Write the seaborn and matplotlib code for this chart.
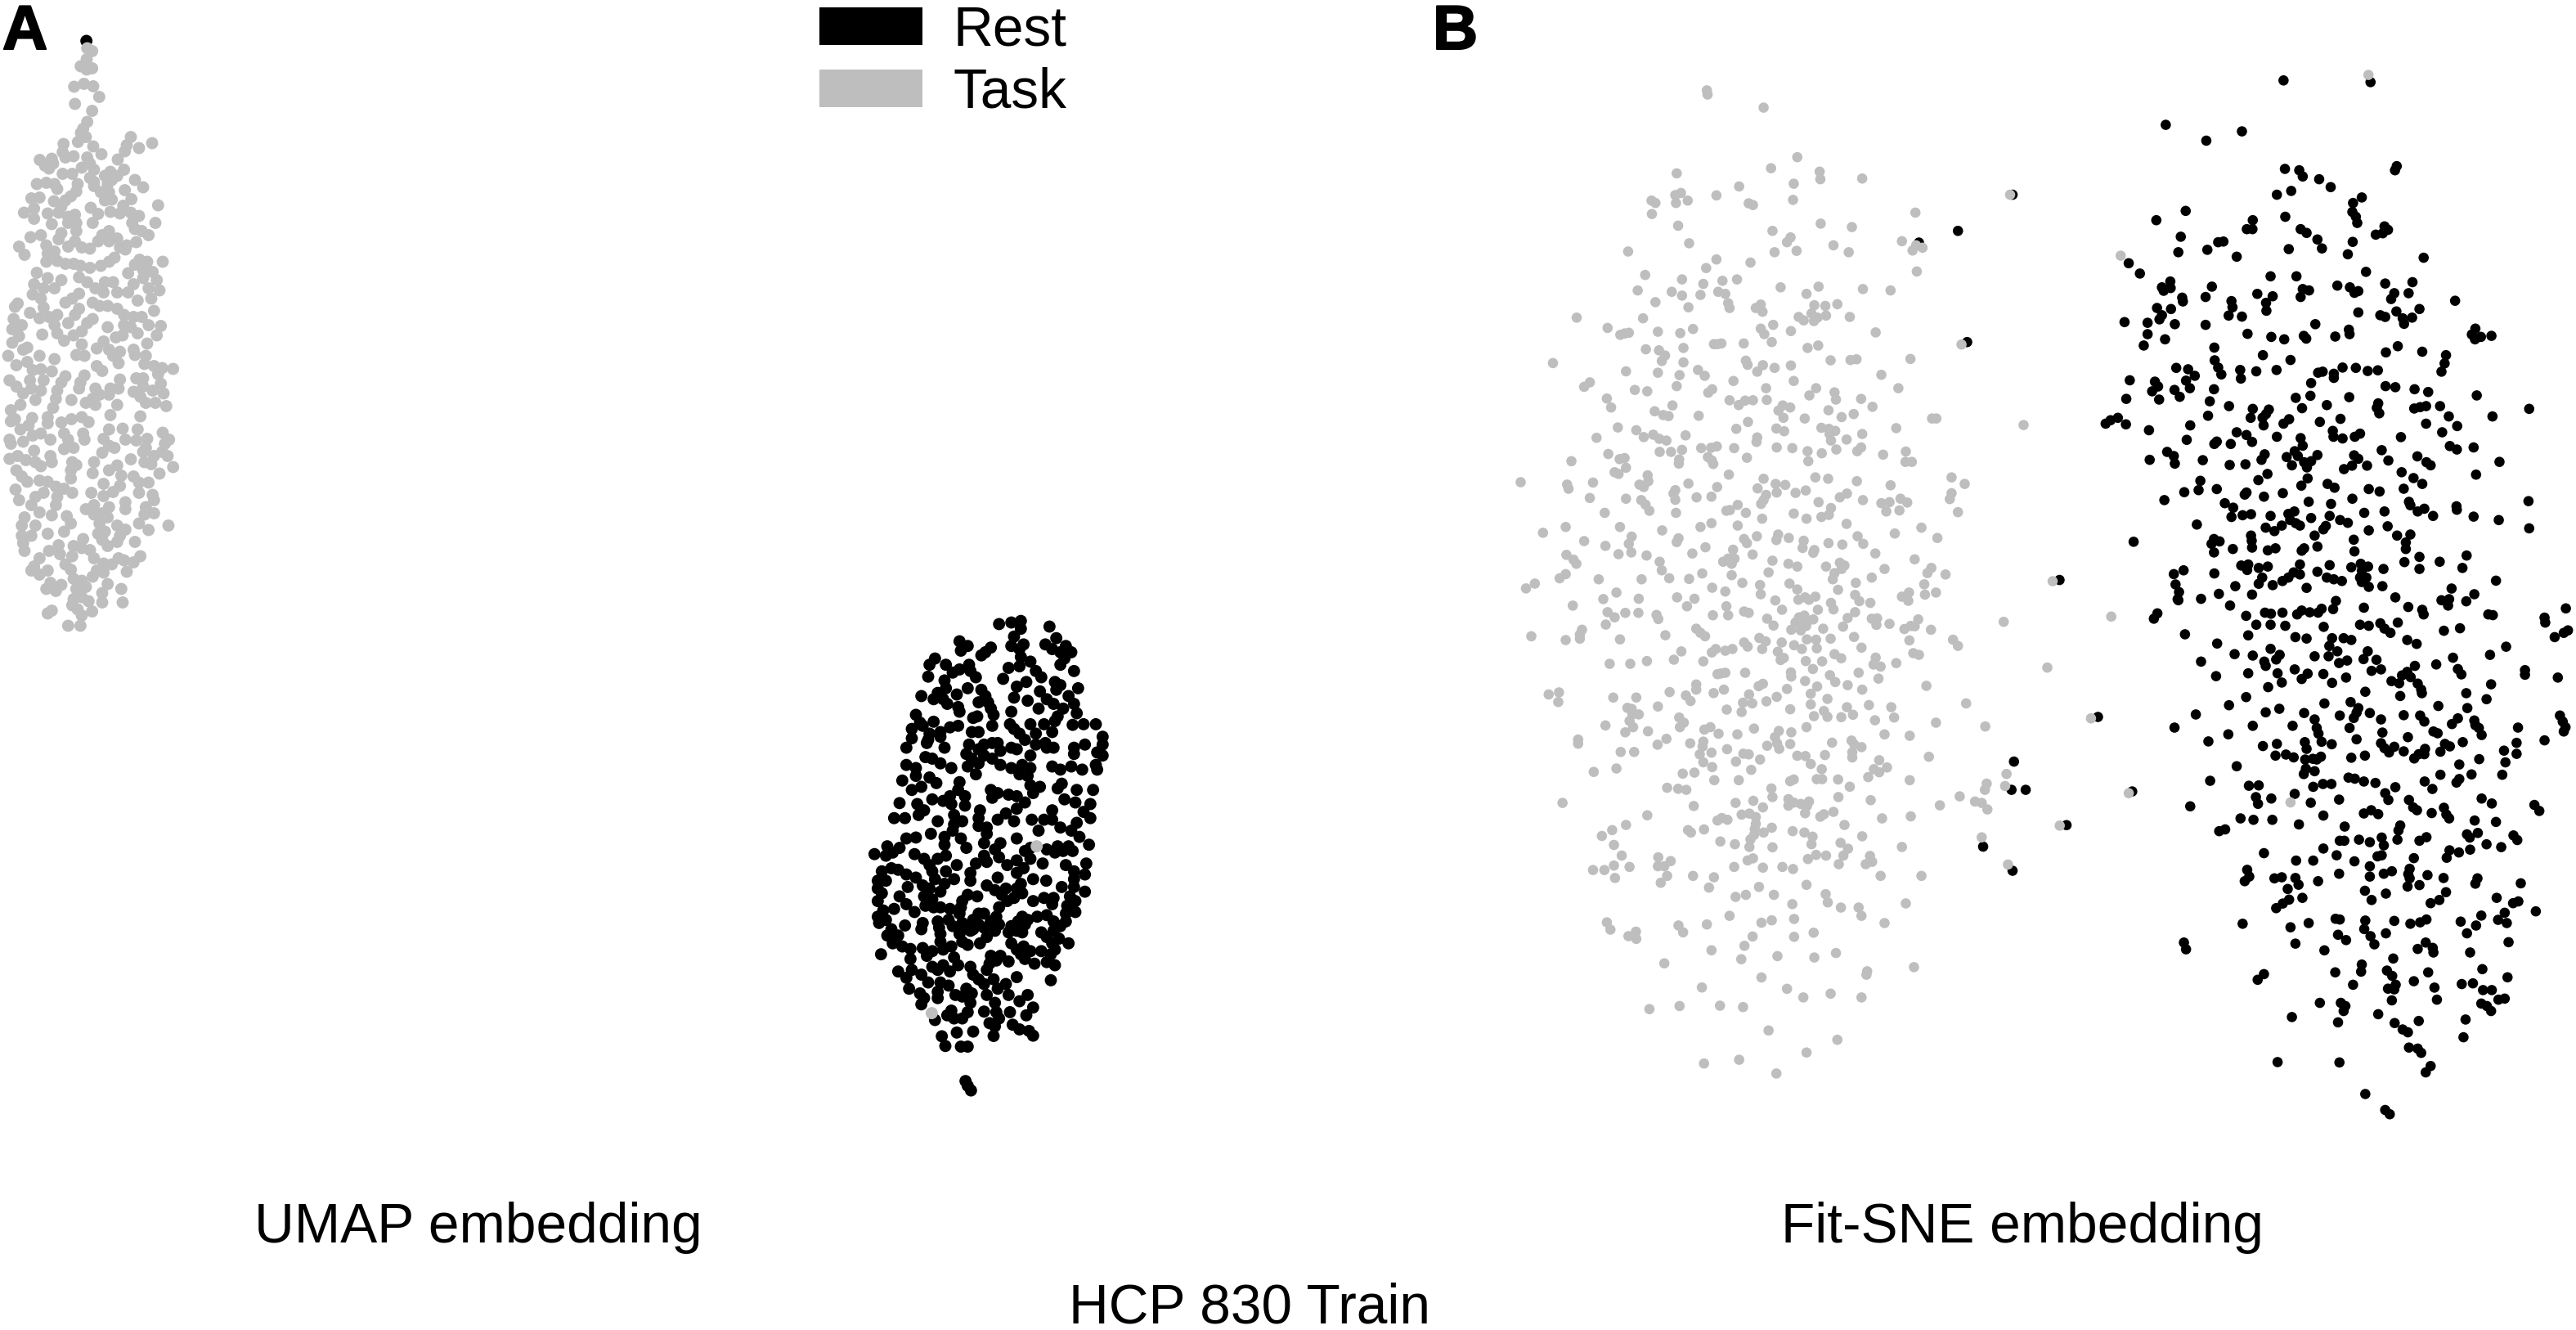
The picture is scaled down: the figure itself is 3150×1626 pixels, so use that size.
import numpy as np
import pandas as pd
import matplotlib
matplotlib.use("Agg")
import matplotlib.pyplot as plt
import matplotlib.patheffects as pe
from matplotlib.patches import Patch
import seaborn as sns

umap_task = [(320,118),(338,125),(318,145),(296,162),(318,170),(338,167),(272,212),(308,205),(342,211),(364,237),(275,254),(338,271),(320,298),(305,315),(297,325),(315,335),(480,335),(465,355),(510,362),(558,350),(458,370),(233,352),(286,347),(342,358),(230,372),(372,377),(146,391),(190,388),(240,385),(270,382),(320,385),(432,390),(165,405),(195,400),(300,410),(330,400),(345,415),(405,420),(455,415),(230,425),(265,425),(180,412),(385,430),(410,440),(430,430),(330,435),(345,445),(495,440),(135,450),(170,447),(200,450),(285,450),(525,458),(210,462),(345,455),(395,450),(280,468),(370,470),(400,470),(458,465),(115,485),(145,483),(198,492),(260,480),(240,490),(385,490),(410,488),(482,487),(225,505),(333,508),(452,503),(580,502),(88,520),(125,510),(125,535),(175,522),(215,520),(360,523),(405,518),(440,522),(480,520),(510,528),(250,530),(275,525),(340,545),(485,545),(190,548),(250,545),(280,545),(570,545),(112,580),(150,575),(225,570),(280,565),(400,565),(375,575),(495,560),(520,565),(545,575),(215,585),(275,590),(360,590),(430,583),(500,592),(70,603),(170,600),(250,603),(300,605),(330,608),(460,610),(90,623),(175,620),(200,615),(400,590),(440,605),(465,600),(170,640),(210,638),(240,645),(270,645),(295,650),(330,655),(370,650),(400,640),(420,630),(512,635),(495,647),(597,640),(540,640),(135,667),(470,668),(175,680),(225,685),(290,678),(525,660),(560,665),(525,680),(575,685),(320,690),(350,705),(385,690),(415,690),(125,695),(120,720),(160,705),(200,705),(490,695),(545,705),(585,710),(150,730),(290,718),(265,730),(240,740),(380,715),(430,715),(470,715),(160,752),(555,730),(505,735),(65,742),(55,750),(340,740),(365,748),(395,748),(430,755),(290,755),(110,765),(565,760),(275,770),(210,770),(180,775),(145,778),(455,770),(50,780),(340,780),(490,775),(520,775),(320,790),(250,790),(200,795),(80,795),(45,805),(300,810),(455,795),(395,800),(480,800),(545,795),(590,797),(505,815),(575,820),(155,818),(210,815),(270,820),(70,822),(425,825),(450,820),(380,835),(45,838),(235,833),(300,842),(540,840),(100,850),(85,855),(355,852),(400,855),(440,860),(490,855),(30,870),(145,870),(200,878),(280,868),(310,870),(415,870),(495,868),(535,870),(100,885),(355,895),(435,888),(530,890),(565,895),(60,893),(120,905),(150,903),(190,908),(375,907),(595,900),(635,902),(240,920),(310,918),(580,915),(440,928),(500,925),(35,930),(110,930),(160,930),(225,935),(295,935),(525,925),(60,945),(115,950),(290,950),(350,950),(405,950),(435,950),(525,945),(590,938),(210,955),(150,955),(85,962),(490,958),(560,955),(365,965),(400,965),(600,962),(130,978),(205,975),(262,978),(340,975),(515,970),(315,985),(350,990),(430,990),(535,985),(570,985),(610,993),(75,990),(195,997),(40,1003),(55,1025),(405,1015),(515,1018),(175,1020),(118,1022),(262,1025),(300,1020),(325,1032),(40,1030),(225,1033),(175,1035),(75,1050),(105,1040),(400,1050),(450,1048),(505,1050),(597,1058),(235,1060),(150,1060),(305,1060),(120,1065),(35,1075),(40,1085),(85,1080),(185,1075),(250,1075),(310,1075),(380,1073),(460,1075),(500,1077),(540,1073),(620,1075),(400,1090),(605,1085),(535,1095),(235,1098),(125,1102),(270,1095),(420,1095),(375,1107),(595,1105),(525,1105),(185,1115),(65,1115),(35,1122),(95,1125),(565,1115),(480,1123),(615,1115),(130,1130),(190,1130),(345,1130),(530,1130),(265,1130),(150,1140),(280,1137),(430,1138),(555,1135),(260,1150),(635,1142),(60,1150),(400,1150),(80,1165),(340,1157),(260,1170),(585,1158),(100,1178),(445,1163),(490,1165),(145,1175),(175,1178),(380,1183),(510,1180),(545,1180),(205,1190),(440,1188),(57,1197),(160,1205),(235,1195),(265,1205),(415,1203),(510,1205),(335,1205),(560,1210),(130,1215),(210,1215),(380,1213),(70,1223),(565,1223),(115,1235),(205,1235),(345,1235),(460,1228),(315,1245),(400,1240),(460,1245),(535,1240),(145,1253),(190,1260),(245,1262),(345,1258),(375,1255),(565,1255),(530,1258),(90,1265),(260,1280),(365,1280),(395,1265),(510,1280),(80,1285),(130,1285),(430,1285),(618,1285),(460,1295),(545,1296),(175,1305),(235,1300),(360,1305),(385,1300),(115,1310),(80,1310),(440,1310),(375,1320),(305,1318),(85,1328),(495,1325),(430,1325),(395,1335),(215,1333),(270,1335),(300,1340),(90,1347),(180,1347),(220,1355),(330,1345),(265,1360),(345,1365),(145,1365),(435,1365),(515,1360),(380,1378),(490,1375),(455,1370),(125,1385),(240,1380),(410,1380),(260,1393),(175,1395),(355,1395),(465,1398),(115,1395),(340,1410),(145,1405),(380,1400),(270,1415),(300,1420),(395,1428),(185,1425),(225,1430),(170,1440),(315,1435),(280,1440),(205,1445),(445,1440),(375,1450),(300,1460),(270,1465),(325,1470),(450,1473),(375,1473),(265,1480),(285,1490),(190,1493),(175,1500),(338,1495),(300,1505),(250,1530),(295,1530)]
umap_rest_top = [(317,100)]
umap_rest = [(545,60),(590,55),(625,50),(625,75),(730,68),(600,100),(755,105),(400,115),(590,130),(430,130),(405,145),(515,135),(495,150),(480,160),(635,125),(715,125),(790,130),(620,140),(740,140),(810,150),(770,150),(625,165),(785,170),(310,170),(290,190),(350,190),(435,190),(660,180),(620,195),(580,200),(770,190),(400,205),(375,215),(440,210),(680,210),(820,210),(285,228),(345,240),(460,230),(560,235),(700,230),(645,245),(610,260),(750,245),(770,255),(755,270),(835,265),(430,265),(350,265),(480,270),(320,280),(260,290),(390,285),(495,290),(695,275),(800,290),(305,300),(340,300),(505,310),(600,295),(650,305),(720,300),(355,315),(470,310),(745,315),(820,315),(395,325),(515,330),(690,330),(780,330),(400,340),(590,340),(525,350),(830,345),(240,350),(450,360),(760,355),(255,375),(520,385),(585,380),(305,372),(465,355),(660,380),(710,380),(750,370),(815,382),(855,380),(900,380),(225,395),(265,385),(395,385),(365,390),(330,405),(445,405),(470,405),(600,395),(740,405),(290,410),(225,425),(285,430),(330,420),(620,410),(680,410),(925,420),(640,430),(435,445),(520,440),(540,440),(205,455),(345,455),(490,445),(280,440),(715,440),(925,445),(680,445),(820,455),(860,445),(590,455),(470,460),(610,460),(425,475),(550,465),(660,480),(720,455),(820,475),(905,470),(275,485),(445,490),(490,480),(745,455),(300,490),(520,490),(925,480),(205,510),(330,505),(240,520),(370,520),(470,505),(550,510),(590,520),(630,510),(430,515),(660,520),(740,515),(810,515),(900,510),(770,525),(850,525),(240,545),(905,525),(460,540),(620,540),(650,545),(290,550),(190,560),(400,565),(315,568),(660,575),(775,570),(225,590),(260,580),(395,590),(515,590),(695,580),(760,585),(830,590),(890,590),(670,600),(540,600),(580,605),(610,610),(365,610),(420,610),(520,615),(300,620),(785,620),(825,630),(180,632),(245,635),(340,625),(880,635),(640,630),(370,635),(420,640),(270,655),(610,650),(475,655),(740,655),(160,680),(200,680),(250,670),(320,690),(380,670),(570,665),(855,660),(600,690),(540,685),(665,685),(470,680),(410,690),(710,685),(880,680),(740,685),(380,700),(500,710),(470,705),(770,710),(690,720),(830,695),(810,720),(295,730),(500,730),(375,720),(205,745),(240,742),(345,740),(405,745),(610,745),(840,740),(490,760),(345,765),(425,775),(550,760),(660,775),(135,770),(180,775),(875,765),(760,770),(800,770),(720,780),(530,780),(155,790),(235,795),(750,790),(88,795),(130,800),(350,800),(490,800),(640,785),(270,810),(320,810),(545,805),(780,785),(815,785),(610,815),(660,810),(150,840),(290,830),(390,830),(460,825),(500,820),(575,830),(705,825),(790,830),(865,825),(115,850),(300,850),(350,850),(440,855),(635,840),(820,850),(175,845),(205,860),(240,870),(610,855),(540,870),(670,875),(718,880),(860,860),(100,880),(130,880),(310,875),(380,875),(440,880),(820,875),(265,895),(345,890),(500,895),(625,890),(775,900),(820,900),(100,905),(210,900),(530,910),(570,905),(610,905),(860,915),(180,930),(290,905),(115,920),(330,915),(430,925),(465,930),(555,925),(630,920),(600,935),(710,935),(745,935),(805,930),(205,955),(100,945),(270,930),(300,940),(410,945),(575,945),(670,945),(825,945),(275,960),(330,965),(365,970),(405,965),(740,955),(795,960),(160,970),(120,975),(545,965),(235,980),(305,965),(400,985),(825,980),(470,985),(490,985),(100,995),(535,995),(630,995),(685,995),(720,990),(790,985),(130,1005),(320,1010),(265,1015),(360,1005),(450,1005),(410,1015),(515,1010),(615,1010),(650,1005),(745,1010),(105,1015),(200,1023),(470,1020),(545,1020),(640,1020),(790,1010),(150,1035),(260,1035),(325,1030),(375,1025),(420,1030),(590,1025),(770,1025),(450,1035),(490,1030),(530,1040),(610,1040),(700,1045),(135,1055),(175,1055),(330,1050),(400,1050),(440,1040),(580,1045),(630,1045),(745,1040),(410,1075),(500,1060),(720,1060),(765,1065),(155,1080),(330,1075),(430,1085),(590,1080),(475,1080),(800,1080),(635,1090),(740,1080),(190,1090),(370,1090),(265,1095),(610,1100),(220,1098),(340,1100),(700,1105),(660,1105),(300,1105),(750,1100),(112,1115),(625,1115),(280,1120),(515,1120),(380,1125),(640,1130),(735,1115),(220,1130),(550,1120),(580,1138),(675,1145),(510,1145),(440,1155),(300,1155),(340,1150),(395,1150),(720,1140),(750,1150),(500,1165),(535,1135),(320,1165),(365,1170),(225,1165),(175,1170),(450,1180),(610,1188),(260,1180),(470,1195),(205,1190),(525,1195),(735,1198),(285,1205),(490,1210),(330,1205),(570,1210),(215,1225),(360,1215),(425,1225),(540,1225),(255,1240),(320,1235),(445,1240),(385,1245),(410,1250),(580,1245),(650,1245),(270,1255),(320,1255),(500,1245),(620,1265),(260,1275),(440,1270),(530,1270),(670,1285),(490,1298),(370,1295),(430,1300),(585,1300),(355,1310),(535,1300),(410,1320),(645,1310),(380,1320),(310,1325),(545,1320),(510,1335),(595,1340),(530,1345),(620,1355),(390,1365),(450,1362),(655,1360),(670,1375),(335,1377),(525,1376),(348,1408),(405,1410),(430,1410),(422,1520),(430,1535),(442,1550)]
umap_task_low = [(683,770),(298,1303)]

sne_task_upper = [(570,120),(572,132),(730,170),(825,314),(751,346),(485,361),(888,356),(890,378),(1008,376),(815,391),(661,399),(1425,423),(414,440),(425,447),(481,424),(497,418),(516,440),(483,447),(597,425),(813,438),(688,448),(700,453),(1158,475),(415,479),(489,513),(891,507),(979,517),(755,528),(1120,558),(520,564),(806,547),(796,561),(927,570),(348,588),(761,590),(823,586),(970,590),(1160,570),(1150,585),(1178,577),(597,611),(693,620),(568,636),(1162,646),(396,656),(500,669),(614,673),(655,669),(560,682),(778,692),(885,690),(1010,697),(1088,701),(375,701),(471,705),(500,716),(552,714),(602,705),(622,711),(851,711),(425,735),(630,738),(634,752),(722,742),(708,752),(727,763),(873,744),(904,746),(938,741),(518,750),(829,778),(843,788),(865,768),(872,790),(882,780),(906,774),(973,778),(203,780),(390,782),(290,810),(326,830),(338,826),(350,824),(432,821),(495,825),(531,813),(757,801),(722,812),(732,828),(807,819),(1046,823),(1288,858),(590,857),(600,857),(611,855),(674,855),(753,851),(854,868),(884,861),(398,872),(435,875),(452,890),(443,906),(504,868),(504,910),(136,912),(680,905),(685,917),(728,918),(761,926),(807,919),(919,904),(975,903),(992,901),(1144,900),(545,932),(564,949),(712,937),(342,936),(432,940),(493,947),(1062,946),(645,964),(815,964),(240,968),(224,981),(485,979),(737,985),(878,985),(1110,985),(367,990),(402,994),(585,988),(574,998),(930,997),(859,1006),(934,1018),(1005,1016),(288,1015),(300,1041),(634,1020),(700,1020),(678,1021),(660,1034),(739,1019),(473,1035),(1037,1039),(784,1035),(805,1041),(772,1050),(786,1071),(423,1052),(447,1063),(462,1066),(547,1065),(913,1049),(984,1060),(950,1069),(846,1073),(1205,1073),(1217,1073),(1463,1092),(686,1083),(319,1099),(653,1103),(766,1102),(788,1110),(893,1100),(914,1103),(932,1109),(916,1118),(1104,1101),(371,1107),(419,1120),(392,1127),(436,1132),(456,1137),(510,1122),(1008,1118),(259,1129),(712,1128),(710,1141),(920,1137),(964,1134),(598,1154),(582,1158),(554,1159),(647,1159),(767,1157),(811,1159),(854,1168),(935,1163),(1005,1157),(994,1168),(437,1170),(469,1170),(500,1164),(894,1174),(1131,1169),(292,1176),(1067,1178),(324,1191),(338,1188),(573,1185),(584,1195),(683,1187),(492,1192),(491,1204),(856,1197),(188,1197),(1130,1199),(1148,1199),(588,1205),(342,1216),(310,1229),(321,1234),(632,1236),(403,1238),(405,1255),(380,1265),(392,1272),(876,1244),(912,1248),(730,1248),(1260,1244),(1297,1263),(993,1255),(249,1259),(518,1262),(45,1258),(176,1265),(180,1277),(764,1263),(791,1266),(1088,1267),(599,1272),(713,1276),(481,1281),(476,1291),(849,1282),(820,1289),(767,1288),(737,1295),(1260,1290),(965,1291),(945,1302),(240,1304),(342,1306),(541,1302),(583,1300),(481,1309),(385,1310),(397,1323),(408,1341),(730,1310),(723,1321),(1010,1310),(1255,1307),(885,1316),(1116,1306),(1135,1317),(1062,1319),(1085,1316),(657,1324),(1076,1343),(920,1333),(625,1341),(635,1339),(1113,1340),(282,1347),(483,1347),(680,1347),(815,1349),(1278,1345),(893,1359),(914,1353),(851,1364),(726,1364),(583,1377),(964,1379),(172,1388),(325,1388),(657,1384),(552,1388),(1175,1390),(444,1398),(108,1405),(1100,1407),(771,1410),(711,1415),(358,1416),(995,1415),(801,1420),(490,1421),(675,1423),(766,1426),(843,1428),(1220,1420),(224,1429),(485,1432),(683,1435),(350,1437),(913,1435),(1011,1437),(952,1439),(284,1443),(566,1447),(840,1449),(644,1454),(873,1455),(357,1462),(321,1467),(529,1465),(699,1468),(1045,1465),(174,1469),(400,1471),(870,1463),(648,1480),(630,1480),(1156,1482),(194,1483),(755,1486),(437,1489),(616,1489),(640,1495),(202,1495),(945,1492),(958,1500),(800,1495),(825,1503),(906,1503),(1071,1510),(950,1510),(443,1514),(1203,1507),(744,1520),(557,1523),(1192,1522),(1243,1526),(172,1525),(640,1528),(930,1522),(155,1537),(265,1540),(386,1540),(464,1537),(520,1539),(925,1540),(1035,1535)]
sne_task_lower = [(1545,25),(1565,735),(60,46),(85,32),(585,44),(622,55),(670,30),(720,36),(722,63),(803,32),(825,49),(940,50),(990,30),(1183,34),(1216,58),(1185,64),(1140,58),(1120,70),(1138,82),(315,58),(278,77),(378,76),(486,72),(535,76),(514,98),(763,81),(828,79),(847,72),(858,79),(876,70),(988,65),(1000,83),(1031,88),(920,88),(927,107),(883,108),(782,108),(192,96),(625,98),(290,115),(340,117),(377,117),(310,130),(428,123),(433,135),(587,124),(630,124),(675,113),(688,117),(740,134),(285,151),(758,154),(1407,143),(988,115),(967,132),(1035,134),(1050,133),(1048,152),(1085,149),(1166,136),(1145,155),(1127,164),(1156,156),(954,157),(870,136),(830,130),(845,125),(855,140),(820,145),(840,155),(850,155),(808,166),(835,168),(898,163),(1202,166),(75,185),(172,196),(218,166),(212,180),(212,192),(325,194),(453,182),(540,163),(552,175),(565,185),(718,190),(736,200),(852,194),(878,195),(919,192),(985,187),(1141,197),(1264,195),(1278,213),(675,203),(685,215),(781,203),(816,211),(726,222),(838,222),(880,220),(1006,218),(642,222),(622,227),(595,222),(584,232),(498,229),(770,230),(1152,234),(1168,239),(930,237),(949,249),(1046,247),(477,253),(778,254),(787,248),(849,257),(895,258),(401,257),(560,258),(296,265),(354,265),(1040,267),(1060,273),(1104,263),(1530,276),(869,280),(807,290),(808,302),(998,291),(678,291),(622,291),(610,293),(600,295),(917,298),(1054,308),(932,318),(847,315),(540,325),(540,340),(728,323),(716,330),(881,331),(967,327),(1189,329),(618,340),(589,350),(465,347),(1008,340),(796,338),(124,354),(153,348),(511,357),(689,354),(863,352),(306,363),(371,363),(767,361),(524,373),(151,376),(738,374),(910,367),(672,378),(698,380),(1301,380),(432,389),(863,383),(1027,385),(1090,391),(346,393),(358,396),(626,398),(668,405),(805,397),(965,391),(900,402),(378,412),(360,412),(872,417),(910,419),(949,420),(982,413),(1098,421),(492,421),(352,431),(1044,429),(505,436),(1216,436),(284,444),(362,449),(494,449),(851,449),(1355,447),(580,449),(563,456),(703,453),(404,461),(340,464),(773,460),(808,464),(603,468),(656,470),(1071,470),(1142,474),(762,478),(456,483),(207,485),(207,497),(431,500),(523,496),(560,491),(740,503),(768,496),(805,498),(923,494),(978,488),(986,500),(774,512),(1006,507),(627,513),(558,505),(583,523),(550,528),(673,526),(688,528),(825,532),(848,533),(903,530),(980,522),(980,537),(327,521),(365,521),(1196,535),(720,543),(652,549),(560,551),(863,556),(1056,545),(585,565),(1078,566),(1041,571),(315,569),(695,573),(894,571),(251,579),(502,584),(535,581),(1056,580),(1025,594),(591,603),(660,603),(880,600),(895,600),(940,601),(1142,603),(805,606),(815,601),(1415,585),(1359,613),(1411,620),(973,622),(458,625),(489,628),(512,631),(752,627),(1354,631),(941,652),(755,652),(1283,650),(1032,661),(163,669),(651,669),(701,663),(800,658),(815,668),(835,672),(858,665),(800,677),(852,678),(1326,665),(1345,669),(533,678),(1227,676),(728,682),(1361,688),(847,699),(927,695),(402,705),(668,703),(690,700),(708,710),(890,709),(900,702),(1145,708),(600,720),(612,713),(628,718),(1064,714),(342,733),(708,730),(958,733),(303,748),(517,748),(525,755),(562,746),(705,745),(753,741),(812,751),(730,755),(845,755),(274,765),(703,762),(868,767),(1008,766),(608,781),(1345,769),(693,775),(947,785),(649,789),(308,791),(865,789),(1120,797),(690,797),(755,798),(968,802),(330,822),(433,827),(955,822),(878,820),(906,822),(855,832),(1030,823),(700,830),(685,836),(468,838),(1036,840),(308,851),(1018,847),(942,847),(432,853),(450,853),(1419,848),(352,855),(647,855),(728,857),(783,855),(813,861),(281,864),(249,864),(458,881),(531,881),(1060,881),(1175,881),(590,885),(311,887),(440,901),(576,915),(717,913),(851,907),(905,934),(680,936),(651,942),(759,936),(911,958),(811,963),(1131,961),(948,973),(998,973),(1006,997),(634,997),(816,1006),(753,1010),(724,1017),(288,1016),(570,1022),(490,1025),(1071,1018),(298,1037),(503,1045),(370,1043),(349,1056),(371,1064),(871,1046),(699,1057),(816,1058),(676,1084),(583,1097),(934,1105),(769,1114),(873,1118),(667,1123),(450,1135),(1154,1146),(1022,1158),(1020,1168),(724,1176),(556,1205),(796,1209),(919,1223),(842,1234),(1006,1234),(408,1268),(493,1259),(607,1258),(672,1262),(744,1330),(938,1357),(851,1394),(562,1426),(661,1415),(766,1455)]
sne_rest_in_task_upper = [(1278,528),(1304,851),(1168,562),(1432,423)]
sne_rest_in_task_lower = [(1436,549),(1429,631),(1469,631),(1349,796),(1432,866)]
sne_task_in_rest_upper = [(974,75),(265,600)]
sne_task_in_rest_lower = [(238,124),(180,411),(288,622),(751,648)]
sne_rest_upper = [(731,91),(980,96),(394,220),(510,266),(612,239),(1055,340),(1050,352),(735,348),(776,352),(786,370),(833,378),(866,401),(753,412),(712,423),(955,431),(930,447),(451,470),(367,497),(928,473),(938,487),(942,505),(736,487),(643,497),(626,523),(642,523),(780,523),(797,534),(1020,515),(1030,525),(995,539),(1015,535),(437,545),(544,561),(559,559),(828,553),(929,560),(746,581),(841,579),(513,583),(430,590),(915,596),(597,603),(1132,606),(288,622),(320,652),(967,647),(694,660),(768,660),(1100,677),(407,675),(383,692),(388,702),(408,694),(526,690),(1022,681),(885,687),(921,692),(786,697),(804,701),(945,703),(934,708),(1048,709),(1089,709),(656,711),(700,718),(780,720),(508,720),(441,722),(443,733),(1039,726),(1222,731),(582,732),(681,737),(585,750),(369,752),(409,755),(1120,755),(682,760),(1054,762),(945,765),(383,773),(376,785),(574,774),(612,777),(1008,773),(1022,778),(1099,780),(1072,782),(1076,798),(276,793),(342,795),(420,799),(508,801),(822,799),(342,828),(628,827),(918,815),(920,828),(1280,812),(1270,829),(1296,836),(1279,843),(1326,833),(789,833),(796,841),(696,836),(733,843),(879,835),(392,843),(331,861),(533,867),(1058,863),(1128,879),(1024,881),(672,889),(1196,889),(534,904),(751,903),(1192,913),(544,925),(424,926),(458,930),(900,925),(938,926),(607,932),(711,932),(653,936),(1001,933),(972,935),(1183,937),(553,945),(477,949),(830,940),(843,937),(875,943),(875,955),(609,957),(291,962),(452,963),(363,966),(810,970),(372,980),(1023,979),(1051,982),(1106,988),(463,985),(532,988),(419,990),(355,994),(1145,996),(434,1010),(808,1007),(1284,1006),(281,1016),(375,1018),(919,1011),(766,1013),(520,1023),(1002,1029),(855,1034),(575,1037),(998,1042),(1179,1037),(1139,1037),(1122,1040),(1105,1044),(784,1043),(643,1045),(689,1047),(1434,1045),(1005,1058),(681,1060),(515,1065),(1204,1067),(1329,1067),(637,1071),(257,1071),(671,1071),(894,1074),(236,1078),(747,1075),(222,1088),(835,1083),(731,1088),(280,1090),(1139,1088),(674,1093),(464,1093),(1228,1095),(346,1107),(872,1109),(597,1113),(625,1121),(950,1117),(1185,1113),(712,1126),(935,1126),(874,1126),(1067,1127),(900,1131),(780,1130),(641,1141),(454,1135),(540,1140),(533,1147),(580,1147),(786,1152),(1207,1153),(1227,1163),(1275,1157),(1012,1165),(763,1168),(398,1170),(677,1177),(828,1179),(417,1182),(740,1185),(772,1182),(348,1193),(500,1194),(933,1180),(668,1193),(1114,1183),(1031,1195),(810,1197),(790,1200),(945,1190),(1349,1199),(1140,1200),(1152,1209),(420,1204),(577,1208),(622,1206),(755,1209),(970,1210),(927,1210),(798,1215),(904,1220),(1069,1229),(685,1234),(800,1247),(1282,1236),(1103,1246),(659,1252),(493,1254),(857,1263),(1128,1263),(782,1268),(877,1274),(975,1278),(540,1278),(1075,1277),(488,1281),(447,1287),(1006,1285),(625,1288),(620,1294),(729,1290),(675,1300),(928,1306),(390,1310),(1432,1313),(803,1315),(1090,1315),(563,1319),(867,1321),(1094,1325),(587,1332),(1226,1328),(1227,1338),(1134,1335),(1020,1343),(1115,1343),(762,1343),(745,1350),(962,1347),(614,1354),(638,1351),(694,1356),(582,1359),(863,1356),(810,1362),(1159,1356),(1275,1358),(893,1368),(915,1376),(750,1368),(766,1377),(1347,1368),(778,1384),(483,1381),(726,1384),(852,1385),(1029,1386),(680,1390),(845,1395),(1434,1392),(705,1400),(975,1398),(1094,1410),(638,1413),(1056,1413),(820,1413),(932,1425),(532,1423),(548,1430),(525,1437),(302,1431),(640,1428),(1081,1433),(1081,1452),(641,1448),(828,1445),(790,1450),(783,1457),(708,1450),(686,1456),(586,1452),(934,1459),(532,1462),(1255,1471),(1120,1475),(778,1497),(863,1499),(1178,1489),(1077,1490),(610,1500),(630,1497),(660,1507),(686,1503),(925,1505),(952,1495),(973,1503),(1120,1510),(1243,1507),(1017,1510),(627,1513),(445,1514),(955,1515),(533,1523),(417,1525),(828,1518),(760,1520),(778,1526),(745,1535),(728,1545),(670,1535),(855,1535),(875,1540),(898,1545),(950,1535),(968,1535),(955,1548),(1339,1544),(90,1542),(422,1555),(660,1553),(700,1557),(593,1560),(1014,1560),(975,1562),(797,1565)]
sne_rest_lower = [(200,407),(298,617),(110,712),(428,75),(432,55),(430,78),(495,74),(546,60),(641,62),(578,93),(370,115),(360,130),(881,80),(1051,70),(1212,45),(1183,78),(1205,75),(1202,93),(1254,81),(1277,61),(1088,97),(961,99),(1128,105),(1132,118),(873,103),(840,102),(830,113),(806,112),(783,107),(770,118),(728,113),(695,116),(678,113),(624,122),(1317,118),(1330,120),(1539,101),(1478,127),(1480,141),(449,174),(653,147),(694,147),(736,150),(846,153),(950,147),(975,150),(1008,143),(1020,158),(1037,170),(1058,141),(1190,164),(1236,157),(1545,163),(1533,170),(1507,182),(630,177),(765,182),(797,186),(870,185),(903,185),(925,190),(1085,190),(1112,201),(862,207),(541,200),(885,222),(694,215),(972,222),(1368,209),(591,230),(643,234),(720,232),(710,245),(820,236),(860,236),(1322,232),(495,251),(676,251),(680,263),(890,255),(913,248),(960,244),(997,246),(1216,240),(763,273),(1168,259),(1107,263),(1422,275),(1422,288),(1010,273),(983,277),(1230,272),(1240,287),(1085,280),(1070,290),(1095,295),(630,284),(714,284),(800,285),(845,286),(910,296),(538,292),(783,300),(1516,296),(726,310),(1040,306),(870,311),(1062,312),(1115,313),(1325,315),(687,323),(965,336),(1125,330),(1127,340),(1254,340),(624,351),(1065,348),(1312,357),(923,365),(848,369),(575,374),(1174,376),(945,382),(1257,382),(719,384),(680,394),(940,395),(790,396),(978,396),(480,400),(892,403),(1075,402),(1122,403),(1010,414),(932,410),(820,414),(1134,420),(1230,411),(1213,427),(1277,417),(1280,430),(1522,403),(1530,420),(419,437),(643,432),(757,432),(826,438),(920,438),(1402,437),(1290,438),(1538,436),(1533,448),(573,456),(1014,451),(831,454),(1160,448),(1172,453),(1298,458),(940,470),(1087,464),(1478,473),(516,476),(840,477),(869,484),(1244,478),(712,483),(792,478),(672,489),(1010,481),(1398,480),(1048,491),(1193,483),(1207,490),(797,497),(1136,497),(1020,495),(1075,504),(1033,507),(1180,505),(1362,502),(1398,511),(1134,512),(1118,512),(708,516),(738,513),(760,521),(793,527),(1105,524),(838,519),(815,525),(826,527),(925,522),(964,516),(1291,526),(1366,535),(597,546),(1234,541),(795,553),(820,560),(789,568),(1180,570),(1269,569),(1357,570),(917,578),(935,581),(1234,582),(1226,592),(961,589),(521,587),(1135,589),(994,593),(844,596),(868,596),(816,604),(632,601),(660,600),(1051,605),(1157,610),(1022,622),(763,624),(1031,641),(652,633),(1090,641),(696,637),(890,640),(1298,637),(809,649),(1327,651),(658,652),(1449,655),(1463,672),(464,659),(1190,663),(1102,662),(1113,670),(982,670),(961,679),(1002,681),(1155,678),(845,685),(1197,682),(1205,693),(608,693),(645,697),(699,697),(1278,699),(1339,703),(775,710),(906,716),(1065,713),(1060,727),(564,724),(547,729),(1256,738),(1287,734),(1389,741),(1400,754),(1264,747),(1140,746),(1120,756),(1012,747),(947,753),(905,756),(892,756),(978,760),(1057,753),(1018,769),(845,778),(1312,766),(1354,774),(1206,783),(1233,789),(1265,781),(675,791),(1012,797),(1000,800),(883,797),(1198,804),(1104,805),(767,812),(816,812),(934,814),(978,828),(627,838),(1092,835),(890,849),(1041,842),(1018,849),(1088,850),(1143,853),(978,857),(633,857),(1189,861),(1286,862),(705,862),(726,859),(765,861),(1092,862),(620,870),(830,870),(1280,877),(774,880),(1410,876),(1086,885),(1120,881),(743,892),(964,897),(1196,901),(1024,905),(785,917),(1341,917),(983,923),(747,922),(1177,923),(1152,932),(729,933),(1403,927),(1388,932),(710,946),(1453,955),(1364,959),(1297,967),(880,976),(892,978),(965,981),(1345,979),(1048,982),(1140,978),(1122,986),(1238,984),(1370,988),(1094,990),(614,990),(803,988),(1282,995),(751,1000),(962,1005),(1256,1017),(1024,1017),(887,1021),(980,1025),(910,1036),(1375,1042),(1138,1043),(765,1046),(991,1048),(446,1043),(452,1062),(1115,1061),(1158,1058),(1160,1071),(848,1065),(1265,1071),(1045,1088),(955,1105),(1300,1118),(953,1125),(879,1127),(1027,1122),(1145,1127),(1042,1137),(675,1132),(657,1148),(1372,1141),(1104,1152),(930,1162),(1241,1160),(1273,1158),(1052,1162),(1163,1170),(1030,1173),(1048,1175),(1302,1177),(1327,1177),(1170,1204),(1041,1206),(1346,1204),(1364,1201),(835,1213),(895,1213),(1297,1215),(908,1222),(1313,1222),(903,1236),(1325,1236),(755,1253),(1002,1245),(1252,1260),(887,1268),(1118,1264),(1049,1270),(1072,1288),(1087,1296),(1246,1310),(1090,1339),(1115,1342),(1125,1354),(714,1380),(891,1381),(1152,1391),(1138,1409),(965,1470),(1022,1515),(1035,1527)]

group_labels = ["Rest", "Task"]
panel_titles = ["UMAP embedding", "Fit-SNE embedding"]
figure_title = "HCP 830 Train"
panel_letters = ["A", "B"]

# view geometry of each reading: left, top, units per pixel in x and y
V_A1 = (0, 0, 3.0, 2.0)
V_A2 = (1040, 740, 3.0, 1568/600)
V_B1 = (1840, 60, 1568/680, 1568/660)
V_B2 = (1840, 700, 1568/680, 1568/660)
V_B3 = (2480, 60, 1568/670, 1568/660)
V_B4 = (2480, 700, 1568/670, 1568/680)

def frame(points, view, state):
    a = np.array(points, dtype=float)
    return pd.DataFrame({"x": view[0] + a[:, 0] / view[2],
                         "y": view[1] + a[:, 1] / view[3],
                         "state": state})

umap_df = pd.concat([frame(umap_rest, V_A2, "Rest"), frame(umap_rest_top, V_A1, "Rest"),
                     frame(umap_task, V_A1, "Task"), frame(umap_task_low, V_A2, "Task")], ignore_index=True)
sne_df = pd.concat([frame(sne_rest_upper, V_B3, "Rest"), frame(sne_rest_lower, V_B4, "Rest"),
                    frame(sne_rest_in_task_upper, V_B1, "Rest"), frame(sne_rest_in_task_lower, V_B2, "Rest"),
                    frame(sne_task_upper, V_B1, "Task"), frame(sne_task_lower, V_B2, "Task"),
                    frame(sne_task_in_rest_upper, V_B3, "Task"), frame(sne_task_in_rest_lower, V_B4, "Task")], ignore_index=True)

sns.set_theme(style="white")
plt.rcParams["font.family"] = ["Liberation Sans", "DejaVu Sans"]
palette = {"Rest": "#000000", "Task": "#BEBEBE"}

W, H = 3150, 1626
SPLIT = 1750
fig = plt.figure(figsize=(W/100, H/100), dpi=100, facecolor="white")
ax_a = fig.add_axes([0, 0, SPLIT/W, 1])
ax_b = fig.add_axes([SPLIT/W, 0, 1-SPLIT/W, 1])
for ax, df, xlim, s in ((ax_a, umap_df, (0, SPLIT), 115), (ax_b, sne_df, (SPLIT, W), 82)):
    sns.scatterplot(data=df, x="x", y="y", hue="state", palette=palette, s=s,
                    linewidth=0, legend=False, ax=ax, clip_on=False)
    ax.set_xlim(*xlim)
    ax.set_ylim(H, 0)
    ax.axis("off")

FS = 48.7
ax_a.text(585, 1519, panel_titles[0], fontsize=FS, ha="center", va="baseline", color="black")
ax_b.text(2473, 1519, panel_titles[1], fontsize=FS, ha="center", va="baseline", color="black")
ax_a.text(1528, 1617, figure_title, fontsize=FS, ha="center", va="baseline", color="black", clip_on=False)
heavy = [pe.withStroke(linewidth=1.5, foreground="black")]
ax_a.text(3, 60, panel_letters[0], fontsize=55, fontweight="bold", ha="left", va="baseline",
          color="black", path_effects=heavy)
ax_a.text(1752, 60, panel_letters[1], fontsize=55, fontweight="bold", ha="left", va="baseline",
          color="black", clip_on=False, path_effects=heavy)

handles = [Patch(facecolor=palette[k], edgecolor="none", label=k) for k in group_labels]
fig.legend(handles=handles, loc="upper left", bbox_to_anchor=(1002/W, 1-(6)/H), frameon=False,
           fontsize=FS, handlelength=1.87, handleheight=0.66, handletextpad=0.55,
           labelspacing=0.17, borderpad=0, borderaxespad=0, labelcolor="black")
fig.savefig("out.png", dpi=100, facecolor="white")
